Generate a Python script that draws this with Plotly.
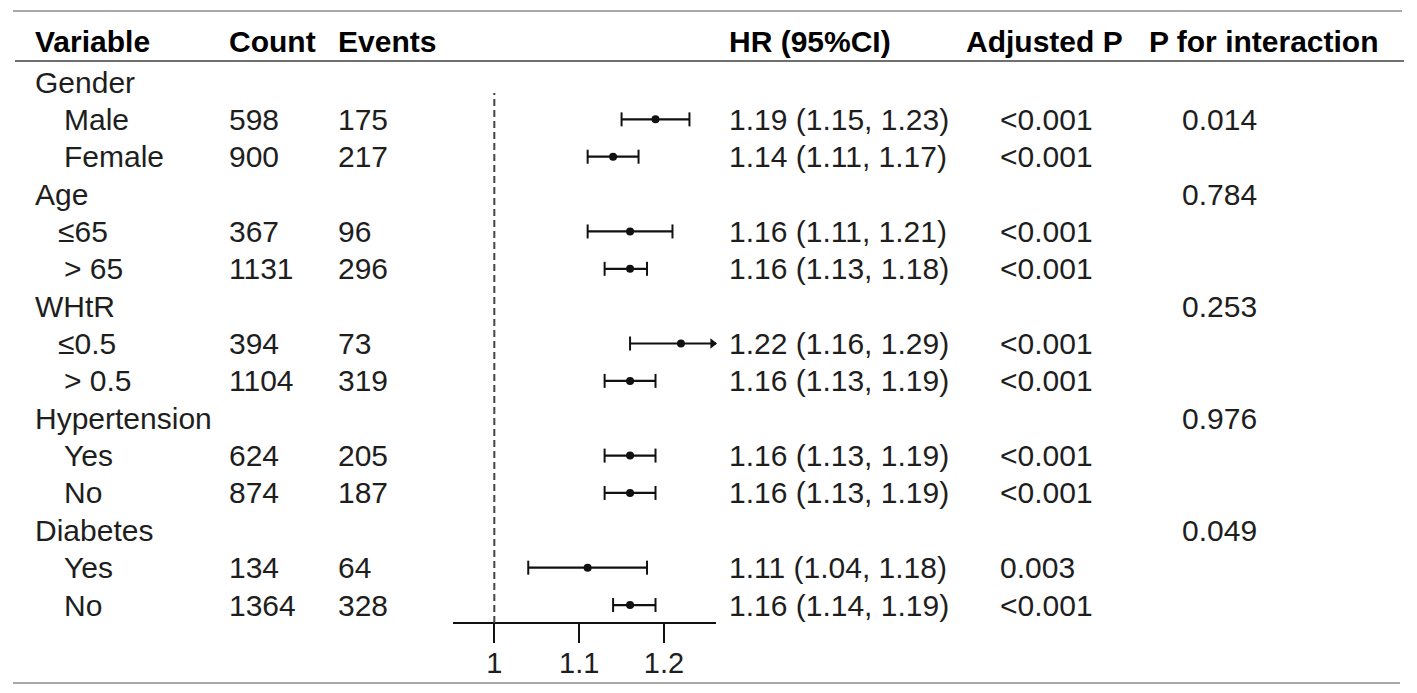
import plotly.graph_objects as go

# subgroup rows, top to bottom
labels = ["Gender", "Male", "Female", "Age", "≤65", "> 65", "WHtR", "≤0.5", "> 0.5",
          "Hypertension", "Yes", "No", "Diabetes", "Yes", "No"]
is_sub = [False, True, True, False, True, True, False, True, True,
          False, True, True, False, True, True]
counts = ["", "598", "900", "", "367", "1131", "", "394", "1104", "", "624", "874", "", "134", "1364"]
events = ["", "175", "217", "", "96", "296", "", "73", "319", "", "205", "187", "", "64", "328"]
hr = [None, 1.19, 1.14, None, 1.16, 1.16, None, 1.22, 1.16, None, 1.16, 1.16, None, 1.11, 1.16]
hr_lo = [None, 1.15, 1.11, None, 1.11, 1.13, None, 1.16, 1.13, None, 1.13, 1.13, None, 1.04, 1.14]
hr_hi = [None, 1.23, 1.17, None, 1.21, 1.18, None, 1.29, 1.19, None, 1.19, 1.19, None, 1.18, 1.19]
adj_p = ["", "<0.001", "<0.001", "", "<0.001", "<0.001", "", "<0.001", "<0.001",
         "", "<0.001", "<0.001", "", "0.003", "<0.001"]
p_int = ["", "0.014", "", "0.784", "", "", "0.253", "", "", "0.976", "", "", "0.049", "", ""]

headers = ["Variable", "Count", "Events", "HR (95%CI)", "Adjusted P", "P for interaction"]
tick_vals = [1, 1.1, 1.2]
tick_text = ["1", "1.1", "1.2"]

W, H = 1417, 693
FONT = "Liberation Sans"
TXT = "#1e1e1e"
x_min, x_max = 0.9513, 1.2613
row_top, row_step = 82, 37.36  # pixel centre of first row, row spacing
PAD = 2  # annotation box inset

rows = list(range(len(labels)))
est = [(i, h, l, u) for i, (h, l, u) in enumerate(zip(hr, hr_lo, hr_hi)) if h is not None]

fig = go.Figure()

# CI lines
lx, ly = [], []
for i, h, l, u in est:
    lx += [l, u, None]
    ly += [i, i, None]
fig.add_trace(go.Scatter(x=lx, y=ly, mode="lines", line=dict(color="#111", width=2.2),
                         hoverinfo="skip", showlegend=False))

# caps (or an arrow when the interval runs past the axis)
cx, cy = [], []
ax_, ay_ = [], []
for i, h, l, u in est:
    cx.append(l); cy.append(i)
    if u <= x_max:
        cx.append(u); cy.append(i)
    else:
        ax_.append(x_max - 0.004); ay_.append(i)
fig.add_trace(go.Scatter(x=cx, y=cy, mode="markers", cliponaxis=False,
                         marker=dict(symbol="line-ns", size=10, line=dict(color="#111", width=2)),
                         hoverinfo="skip", showlegend=False))
fig.add_trace(go.Scatter(x=ax_, y=ay_, mode="markers", cliponaxis=False,
                         marker=dict(symbol="triangle-right", size=9, color="#111"),
                         hoverinfo="skip", showlegend=False))

# point estimates
fig.add_trace(go.Scatter(x=[e[1] for e in est], y=[e[0] for e in est], mode="markers",
                         marker=dict(symbol="circle", size=8, color="#111"),
                         showlegend=False))

# reference line at HR = 1
fig.add_shape(type="line", xref="x", yref="paper", x0=1, x1=1,
              y0=1 - 623 / H, y1=1 - 93 / H,
              line=dict(color="#444", width=2, dash="7px,4px"))

# table rules
for y_px, x0, x1, col in [(11, 13, 1402, "#a8a8a8"), (61, 15, 1404, "#707070"), (683, 13, 1400, "#a8a8a8")]:
    fig.add_shape(type="line", xref="paper", yref="paper", x0=x0 / W, x1=x1 / W,
                  y0=1 - y_px / H, y1=1 - y_px / H, line=dict(color=col, width=2))

# header text
head_x = [35, 229, 338, 729, 966, 1149]
for t, xp in zip(headers, head_x):
    fig.add_annotation(text="<b>" + t + "</b>", x=(xp - PAD) / W, y=1 - 42 / H,
                       xref="paper", yref="paper",
                       xanchor="left", yanchor="middle", showarrow=False,
                       font=dict(family=FONT, size=30, color="#000"))


def put(text, xp, row):
    if text:
        fig.add_annotation(text=text, x=(xp - PAD) / W, y=row, xref="paper", yref="y",
                           xanchor="left", yanchor="middle", showarrow=False,
                           font=dict(family=FONT, size=30, color=TXT))


for i in rows:
    indent = 35
    if is_sub[i]:
        indent = 58 if labels[i].startswith("≤") else 64
    put(labels[i], indent, i)
    put(counts[i], 229, i)
    put(events[i], 338, i)
    if hr[i] is not None:
        put(f"{hr[i]:.2f} ({hr_lo[i]:.2f}, {hr_hi[i]:.2f})", 729, i)
    put(adj_p[i], 1000, i)
    put(p_int[i], 1182, i)

fig.update_layout(
    width=W, height=H,
    margin=dict(l=0, r=0, t=0, b=0),
    paper_bgcolor="white", plot_bgcolor="white",
    xaxis=dict(domain=[453 / W, 716 / W], range=[x_min, x_max],
               anchor="free", position=1 - 623 / H,
               showline=True, linecolor="#111", linewidth=1.5,
               ticks="outside", ticklen=19, tickwidth=1.5, tickcolor="#111",
               tickvals=tick_vals, ticktext=tick_text, ticklabelstandoff=-5,
               tickfont=dict(family=FONT, size=29, color=TXT),
               showgrid=False, zeroline=False, fixedrange=True),
    yaxis=dict(domain=[0, 1], range=[(H - row_top) / row_step, -row_top / row_step],
               visible=False, fixedrange=True),
)

fig.write_html("out.html", config={"displayModeBar": False},
               post_script="document.body.style.margin='0';")
